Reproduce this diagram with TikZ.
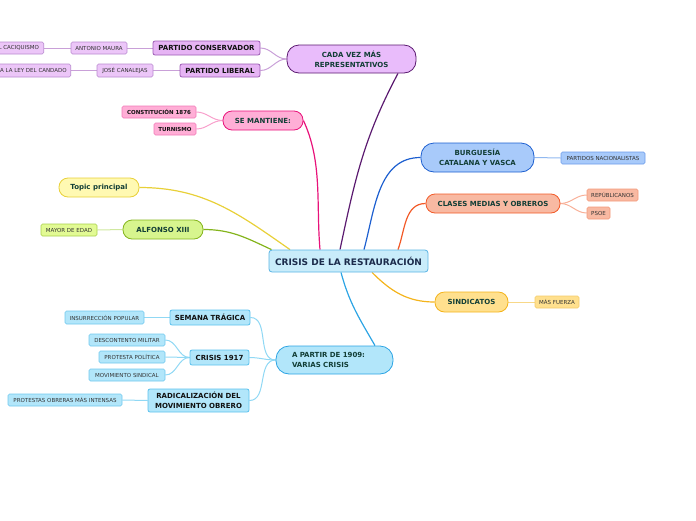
\documentclass[tikz,border=0pt]{standalone}
\usepackage{fontspec}
\setmainfont{DejaVu Sans}
\pgfdeclarelayer{bg}
\pgfsetlayers{bg,main}
\definecolor{cenF}{HTML}{C9ECFA}\definecolor{cenD}{HTML}{5AB4E4}\definecolor{cenT}{HTML}{1B2B4B}
\definecolor{tx1}{HTML}{123E36}\definecolor{tx2}{HTML}{111111}\definecolor{txL}{HTML}{333333}
\definecolor{puD}{HTML}{5B1A70}\definecolor{puF}{HTML}{E9BCFB}\definecolor{pu2D}{HTML}{9C5CB4}\definecolor{pu2F}{HTML}{E6B4F4}\definecolor{puLF}{HTML}{ECC6F8}\definecolor{puLD}{HTML}{B98AD0}\definecolor{puLn}{HTML}{C9A0D8}
\definecolor{piD}{HTML}{E8127A}\definecolor{piF}{HTML}{FFAED6}\definecolor{piLD}{HTML}{F27AB8}\definecolor{piLn}{HTML}{F8A0CC}
\definecolor{blD}{HTML}{1D5FD0}\definecolor{blF}{HTML}{A8CAFA}\definecolor{blLD}{HTML}{6C9CEA}\definecolor{blLn}{HTML}{90B8F0}
\definecolor{orD}{HTML}{F25A28}\definecolor{orF}{HTML}{F8B9A2}\definecolor{orLD}{HTML}{F3997A}\definecolor{orLn}{HTML}{F8B098}
\definecolor{yeD}{HTML}{E8D038}\definecolor{yeF}{HTML}{FFF9B2}
\definecolor{grD}{HTML}{84B41C}\definecolor{grF}{HTML}{D7F58E}\definecolor{grLF}{HTML}{E2FA94}\definecolor{grLD}{HTML}{A8D04A}\definecolor{grLn}{HTML}{D0E8A0}
\definecolor{siD}{HTML}{F4B41C}\definecolor{siF}{HTML}{FFE08E}\definecolor{siLD}{HTML}{F4CC6A}\definecolor{siLn}{HTML}{F8D888}
\definecolor{skD}{HTML}{2CA4E4}\definecolor{skF}{HTML}{B2E6FA}\definecolor{sk2D}{HTML}{5CC2EE}\definecolor{skLD}{HTML}{70C8EE}\definecolor{skLn}{HTML}{90D8F4}
\tikzset{
  box/.style={draw, line width=0.8pt, inner sep=0pt, align=center},
  central/.style={box, draw=cenD, fill=cenF, text=cenT, rounded corners=3pt, font=\fontsize{9}{11}\selectfont\bfseries},
  lone/.style n args={3}{box, draw=#1, fill=#2, text=tx1, rounded corners=#3, font=\fontsize{7}{10}\selectfont\bfseries},
  ltwo/.style n args={2}{box, draw=#1, fill=#2, text=tx2, rounded corners=2pt, font=\fontsize{7}{9.5}\selectfont\bfseries},
  leaf/.style n args={2}{box, line width=0.6pt, draw=#1, fill=#2, text=txL, rounded corners=1.5pt, minimum height=12pt, font=\fontsize{5.5}{7}\selectfont},
  leafb/.style n args={2}{leaf={#1}{#2}, text=tx2, font=\fontsize{5.5}{7}\selectfont\bfseries},
  conn/.style={line width=1.2pt},
  sub/.style={line width=1pt},
}
\begin{document}
\begin{tikzpicture}[x=1pt,y=1pt]
\useasboundingbox (0,0) rectangle (696,-520);
% central
\node[central, minimum width=159pt, minimum height=22pt] (c) at (348.5,-261) {CRISIS DE LA RESTAURACIÓN};
% purple branch
\node[lone={puD}{puF}{12pt}, minimum width=129pt, minimum height=28pt] (cada) at (351.5,-59) {CADA VEZ MÁS\\REPRESENTATIVOS};
\node[ltwo={pu2D}{pu2F}, minimum width=107pt, minimum height=14pt] (pc) at (206.5,-48) {PARTIDO CONSERVADOR};
\node[ltwo={pu2D}{pu2F}, minimum width=80pt, minimum height=13pt] (pl) at (220,-70.5) {PARTIDO LIBERAL};
\node[leaf={puLD}{puLF}, minimum width=56pt] (am) at (99,-48) {ANTONIO MAURA};
\node[leaf={puLD}{puLF}, inner xsep=3.5pt, minimum width=50pt, anchor=east] (ec) at (44,-48) {L CACIQUISMO};
\node[leaf={puLD}{puLF}, minimum width=56pt, minimum height=13pt] (jc) at (125,-70.5) {JOSÉ CANALEJAS};
\node[leaf={puLD}{puLF}, inner xsep=4pt, minimum height=13pt, anchor=east] (ll) at (71,-70.5) {A LA LEY DEL CANDADO};
% pink branch
\node[lone={piD}{piF}{9pt}, minimum width=80pt, minimum height=19pt] (sm) at (263,-120.5) {SE MANTIENE:};
\node[leafb={piLD}{piF}, minimum width=74pt] (co) at (159,-112) {CONSTITUCIÓN 1876};
\node[leafb={piLD}{piF}, minimum width=42pt] (tu) at (175,-129) {TURNISMO};
% blue branch
\node[lone={blD}{blF}{13pt}, minimum width=113pt, minimum height=29pt] (bu) at (477.5,-157.5) {BURGUESÍA\\CATALANA Y VASCA};
\node[leaf={blLD}{blF}, minimum width=84pt] (pn) at (603,-158) {PARTIDOS NACIONALISTAS};
% orange branch
\node[lone={orD}{orF}{9pt}, minimum width=134pt, minimum height=19pt] (cm) at (493,-203.5) {CLASES MEDIAS Y OBREROS};
\node[leaf={orLD}{orF}, minimum width=51pt] (re) at (612.5,-195) {REPÚBLICANOS};
\node[leaf={orLD}{orF}, minimum width=23pt] (ps) at (598.5,-213) {PSOE};
% yellow
\node[lone={yeD}{yeF}{9pt}, minimum width=80pt, minimum height=19pt] (tp) at (99,-187.5) {Topic principal};
% green
\node[lone={grD}{grF}{9pt}, minimum width=80pt, minimum height=19pt] (al) at (163,-229.5) {ALFONSO XIII};
\node[leaf={grLD}{grLF}, minimum width=56pt] (me) at (69,-230) {MAYOR DE EDAD};
% sindicatos
\node[lone={siD}{siF}{9.5pt}, minimum width=73pt, minimum height=20pt] (si) at (471.5,-302) {SINDICATOS};
\node[leaf={siLD}{siF}, minimum width=44pt] (mf) at (557,-302) {MÁS FUERZA};
% sky blue branch
\node[lone={skD}{skF}{13pt}, minimum width=117pt, minimum height=28pt, align=left, text width=85pt, inner xsep=16pt] (ap) at (334.5,-360) {A PARTIR DE 1909:\\VARIAS CRISIS};
\node[ltwo={sk2D}{skF}, minimum width=80pt, minimum height=15pt] (st) at (210,-317.5) {SEMANA TRÁGICA};
\node[leaf={skLD}{skF}, minimum width=79pt, minimum height=13pt] (ip) at (104.5,-317.5) {INSURRECCIÓN POPULAR};
\node[ltwo={sk2D}{skF}, minimum width=59pt, minimum height=15pt] (c17) at (219.5,-357.5) {CRISIS 1917};
\node[leaf={skLD}{skF}, minimum width=76pt] (dm) at (127,-340) {DESCONTENTO MILITAR};
\node[leaf={skLD}{skF}, minimum width=66pt] (pp) at (132,-357) {PROTESTA POLÍTICA};
\node[leaf={skLD}{skF}, minimum width=76pt] (ms) at (127,-375) {MOVIMIENTO SINDICAL};
\node[ltwo={sk2D}{skF}, minimum width=101pt, minimum height=23pt] (ra) at (198.5,-400.5) {RADICALIZACIÓN DEL\\MOVIMIENTO OBRERO};
\node[leaf={skLD}{skF}, minimum width=114pt] (po) at (65,-400) {PROTESTAS OBRERAS MÁS INTENSAS};
% connectors
\begin{pgfonlayer}{bg}
\draw[conn, puD] ([xshift=-8.5pt]c.north) to[out=78,in=-118] ([xshift=46.5pt]cada.south);
\draw[conn, piD] ([xshift=-28.5pt]c.north) to[out=95,in=-65, looseness=0.9] (sm.east);
\draw[conn, yeD] ([xshift=-58.5pt]c.north) to[out=145,in=0] (tp.east);
\draw[conn, grD] ([xshift=-77pt]c.north) to[out=155,in=0] (al.east);
\draw[conn, blD] ([xshift=15.5pt]c.north) to[out=75,in=180] (bu.west);
\draw[conn, orD] ([xshift=49.5pt]c.north) to[out=70,in=180] (cm.west);
\draw[conn, siD] ([xshift=23.5pt]c.south) to[out=-45,in=180] (si.west);
\draw[conn, skD] ([xshift=-7.5pt]c.south) to[out=-75,in=120] ([xshift=40.5pt]ap.north);
\draw[sub, puLn] (cada.west) to[out=180,in=0] (pc.east);
\draw[sub, puLn] (cada.west) to[out=180,in=0] (pl.east);
\draw[sub, puLn] (pc.west) -- (am.east);
\draw[sub, puLn] (am.west) -- (ec.east);
\draw[sub, puLn] (pl.west) -- (jc.east);
\draw[sub, puLn] (jc.west) -- (ll.east);
\draw[sub, piLn] (sm.west) to[out=180,in=0] (co.east);
\draw[sub, piLn] (sm.west) to[out=180,in=0] (tu.east);
\draw[sub, blLn] (bu.east) -- (pn.west);
\draw[sub, orLn] (cm.east) to[out=0,in=180] (re.west);
\draw[sub, orLn] (cm.east) to[out=0,in=180] (ps.west);
\draw[sub, grLn] (al.west) -- (me.east);
\draw[sub, siLn] (si.east) -- (mf.west);
\draw[sub, skLn] (ap.west) to[out=180,in=0] (st.east);
\draw[sub, skLn] (ap.west) to[out=180,in=0] (c17.east);
\draw[sub, skLn] (ap.west) to[out=180,in=0] (ra.east);
\draw[sub, skLn] (st.west) -- (ip.east);
\draw[sub, skLn] (c17.west) to[out=180,in=0] (dm.east);
\draw[sub, skLn] (c17.west) to[out=180,in=0] (pp.east);
\draw[sub, skLn] (c17.west) to[out=180,in=0] (ms.east);
\draw[sub, skLn] (ra.west) -- (po.east);
\end{pgfonlayer}
\end{tikzpicture}
\end{document}
